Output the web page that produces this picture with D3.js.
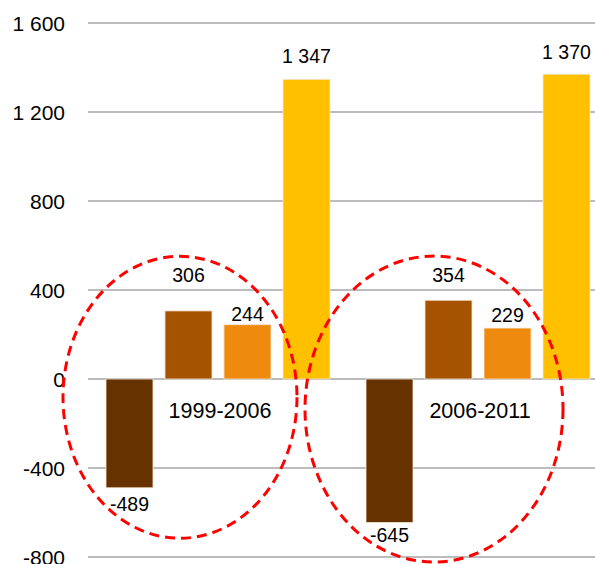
<!DOCTYPE html>
<html lang="en">
<head>
<meta charset="UTF-8">
<title>Bar chart 1999-2006 / 2006-2011</title>
<script src="https://d3js.org/d3.v7.min.js"></script>
<style>
    body { margin: 0; background: #fff; }
    svg { font-family: "Liberation Sans", Arial, sans-serif; }
</style>
</head>
<body>
<div id="chart"></div>
<script>
// data
var periods = ["1999-2006", "2006-2011"];
var seriesKeys = ["a", "b", "c", "d"];
var values1999 = [-489, 306, 244, 1347];
var values2006 = [-645, 354, 229, 1370];
var yTicks = [-800, -400, 0, 400, 800, 1200, 1600];

// layout / style
var colors = ["#663300", "#A65300", "#EE8A0D", "#FFC000"];
var labelGap = [[9, 29, 4, 16], [5, 18, 6, 15]];   // px between bar end and its label
var rings = [ { dx: -38, cy: -82, rx: 117, ry: 141 },   // cy in value units
              { dx: -44, cy: -135, rx: 129, ry: 153 } ];

var width = 595, height = 564;
var rows = [values1999, values2006];

var locale = d3.formatLocale({ decimal: ",", thousands: " ", grouping: [3], minus: "-" });
var fmt = locale.format(",d");

var svg = d3.select("#chart").append("svg")
    .attr("width", width)
    .attr("height", height);

var x = d3.scaleBand()
    .domain(periods)
    .range([88, 608])
    .paddingInner(0.1385)
    .paddingOuter(0.0692);

var xs = d3.scaleBand()
    .domain(seriesKeys)
    .range([0, x.bandwidth()])
    .paddingInner(0.2034)
    .paddingOuter(0);

var y = d3.scaleLinear()
    .domain([-800, 1600])
    .range([557, 23]);

// grid
svg.append("g")
    .selectAll("line")
    .data(yTicks)
    .enter().append("line")
    .attr("x1", 88)
    .attr("x2", width)
    .attr("y1", d => y(d))
    .attr("y2", d => y(d))
    .attr("stroke", "#a6a6a6")
    .attr("stroke-width", 1.5);

// y tick labels
svg.append("g")
    .selectAll("text")
    .data(yTicks)
    .enter().append("text")
    .attr("x", 65)
    .attr("y", d => y(d))
    .attr("dy", "0.36em")
    .attr("text-anchor", "end")
    .attr("font-size", 21)
    .attr("fill", "#000")
    .text(d => fmt(d));

// bars
var groups = svg.append("g")
    .selectAll("g")
    .data(periods)
    .enter().append("g")
    .attr("transform", d => `translate(${x(d)},0)`);

groups.selectAll("rect")
    .data((p, gi) => rows[gi].map((v, i) => ({ key: seriesKeys[i], v: v, i: i, gi: gi })))
    .enter().append("rect")
    .attr("x", d => xs(d.key))
    .attr("width", xs.bandwidth())
    .attr("y", d => y(Math.max(0, d.v)))
    .attr("height", d => Math.abs(y(d.v) - y(0)))
    .attr("fill", d => colors[d.i])
    .attr("stroke", "#f6e7d8")
    .attr("stroke-width", 0.8);

// value labels
groups.selectAll("text.val")
    .data((p, gi) => rows[gi].map((v, i) => ({ key: seriesKeys[i], v: v, i: i, gi: gi })))
    .enter().append("text")
    .attr("class", "val")
    .attr("x", d => xs(d.key) + xs.bandwidth() / 2)
    .attr("y", d => d.v >= 0 ? y(d.v) - labelGap[d.gi][d.i] : y(d.v) + labelGap[d.gi][d.i])
    .attr("dy", d => d.v >= 0 ? 0 : "0.72em")
    .attr("text-anchor", "middle")
    .attr("font-size", 19.5)
    .attr("fill", "#000")
    .text(d => fmt(d.v));

// period labels
svg.append("g")
    .selectAll("text")
    .data(periods)
    .enter().append("text")
    .attr("x", d => x(d) + x.bandwidth() / 2 + 2)
    .attr("y", 418)
    .attr("text-anchor", "middle")
    .attr("font-size", 21.5)
    .attr("fill", "#000")
    .text(d => d);

// dashed rings
svg.append("g")
    .selectAll("ellipse")
    .data(periods)
    .enter().append("ellipse")
    .attr("cx", (d, i) => x(d) + x.bandwidth() / 2 + rings[i].dx)
    .attr("cy", (d, i) => y(rings[i].cy))
    .attr("rx", (d, i) => rings[i].rx)
    .attr("ry", (d, i) => rings[i].ry)
    .attr("fill", "none")
    .attr("stroke", "#ff0000")
    .attr("stroke-width", 3)
    .attr("stroke-dasharray", "10,6");
</script>
</body>
</html>
